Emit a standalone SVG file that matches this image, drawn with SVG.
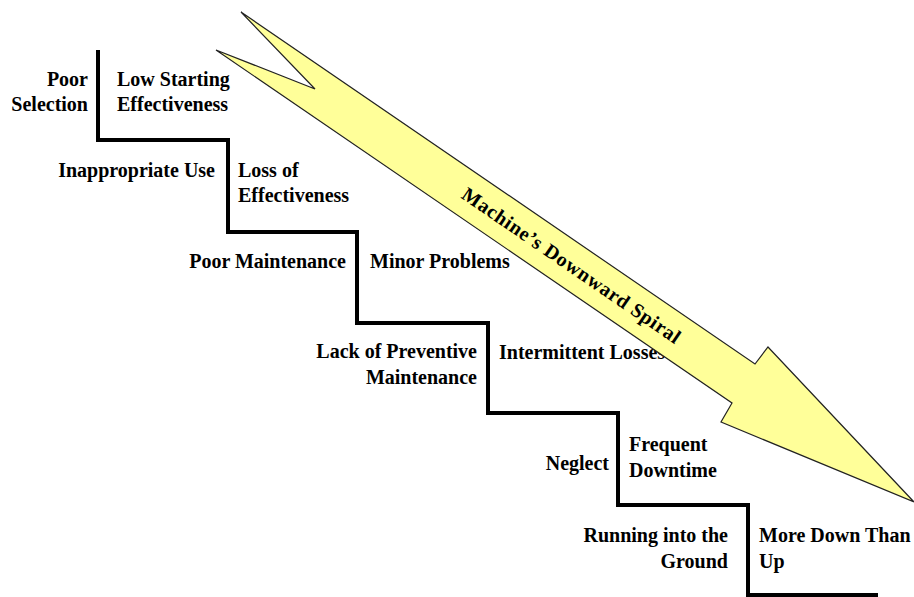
<svg xmlns="http://www.w3.org/2000/svg" width="914" height="597" viewBox="0 0 914 597">
  <style>
    .lbl { font-family: "Liberation Serif", "Times New Roman", serif; font-weight: bold; font-size: 20px; fill: #000; }
    .r { text-anchor: end; }
    .stair { fill: none; stroke: #000; stroke-width: 4; stroke-linejoin: miter; }
    .arrow { fill: #FFFF99; stroke: #222; stroke-width: 1.2; stroke-linejoin: miter; }
    .atext { font-family: "Liberation Serif", "Times New Roman", serif; font-weight: bold; font-size: 20px; fill: #000; text-anchor: middle; }
  </style>
  <rect width="914" height="597" fill="#fff"/>
  <g id="connectors">
    <path class="stair" d="M98,50 V140 H228 V232 H357 V323 H488 V413 H618 V505 H748 V595 H878"/>
  </g>
  <g id="step1">
    <text class="lbl r" x="88" y="86">Poor</text>
    <text class="lbl r" x="88" y="111">Selection</text>
    <text class="lbl" x="117" y="86">Low Starting</text>
    <text class="lbl" x="117" y="111">Effectiveness</text>
  </g>
  <g id="step2">
    <text class="lbl r" x="215" y="177">Inappropriate Use</text>
    <text class="lbl" x="238" y="177">Loss of</text>
    <text class="lbl" x="238" y="202">Effectiveness</text>
  </g>
  <g id="step3">
    <text class="lbl r" x="346" y="268">Poor Maintenance</text>
    <text class="lbl" x="370" y="268">Minor Problems</text>
  </g>
  <g id="step4">
    <text class="lbl r" x="477" y="358">Lack of Preventive</text>
    <text class="lbl r" x="477" y="384">Maintenance</text>
    <text class="lbl" x="499" y="359">Intermittent Losses</text>
  </g>
  <g id="step5">
    <text class="lbl r" x="609" y="470">Neglect</text>
    <text class="lbl" x="629" y="451">Frequent</text>
    <text class="lbl" x="629" y="477">Downtime</text>
  </g>
  <g id="step6">
    <text class="lbl r" x="728" y="542">Running into the</text>
    <text class="lbl r" x="728" y="568">Ground</text>
    <text class="lbl" x="759" y="542">More Down Than</text>
    <text class="lbl" x="759" y="568">Up</text>
  </g>
  <g id="spiral-arrow">
    <polygon class="arrow" points="241,12 315,89 216,50 732,403 721,422 914,502 768,347 755,364"/>
    <text class="atext" transform="translate(571,266) rotate(34.4)" x="0" y="6" textLength="260" lengthAdjust="spacing">Machine’s Downward Spiral</text>
  </g>
</svg>
